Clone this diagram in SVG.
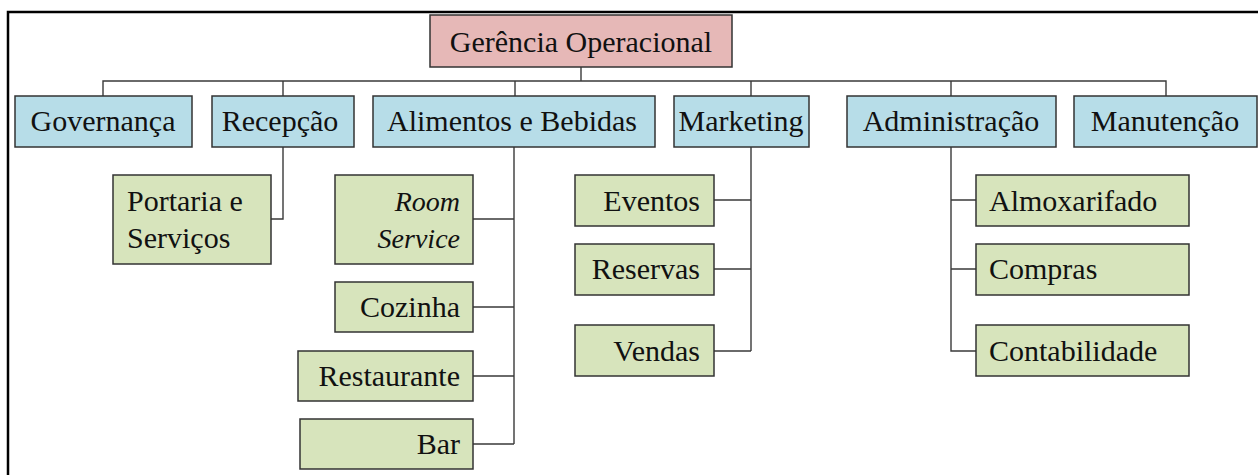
<svg xmlns="http://www.w3.org/2000/svg" width="1258" height="475" viewBox="0 0 1258 475">
<style>
  .root rect { fill: #E6B8B7; stroke: #333; stroke-width: 1.5; }
  .l2 rect { fill: #B7DDE8; stroke: #333; stroke-width: 1.5; }
  .l3 rect { fill: #D7E4BC; stroke: #333; stroke-width: 1.5; }
  text { font-family: "Liberation Serif", "DejaVu Serif", serif; font-size: 30px; fill: #111; }
  .c { text-anchor: middle; }
  .r { text-anchor: end; }
  .it { font-style: italic; font-size: 28px; }
  #connectors path { fill: none; stroke: #3a3a3a; stroke-width: 1.4; }
  .frame { fill: none; stroke: #000; stroke-width: 2.5; }
</style>
<rect x="0" y="0" width="1258" height="475" fill="#fff"/>
<path class="frame" d="M8 476 V12 H1260"/>

<g id="connectors">
  <path d="M581 67 V81"/>
  <path d="M103 96 V81 H1166 V96"/>
  <path d="M283 81 V96 M515 81 V96 M751 81 V96 M951 81 V96"/>
  <path d="M283 147 V219 H271"/>
  <path d="M514 147 V444 M473 219 H514 M473 307 H514 M473 376 H514 M473 444 H514"/>
  <path d="M751 147 V351 M714 200 H751 M714 269 H751 M714 351 H751"/>
  <path d="M951 147 V351 H976 M951 200 H976 M951 269 H976"/>
</g>

<g id="n-gerencia" class="root"><rect x="430" y="15" width="302" height="52"/><text class="c" x="581" y="52">Gerência Operacional</text></g>

<g id="n-governanca" class="l2"><rect x="15" y="96" width="177" height="51"/><text class="c" x="103" y="131">Governança</text></g>
<g id="n-recepcao" class="l2"><rect x="212" y="96" width="142" height="51"/><text class="c" x="280" y="131">Recepção</text></g>
<g id="n-alimentos" class="l2"><rect x="373" y="96" width="282" height="51"/><text class="c" x="512" y="131">Alimentos e Bebidas</text></g>
<g id="n-marketing" class="l2"><rect x="674" y="96" width="135" height="51"/><text class="c" x="741" y="131">Marketing</text></g>
<g id="n-administracao" class="l2"><rect x="847" y="96" width="209" height="51"/><text class="c" x="951" y="131">Administração</text></g>
<g id="n-manutencao" class="l2"><rect x="1074" y="96" width="183" height="51"/><text class="c" x="1165" y="131">Manutenção</text></g>

<g id="n-portaria" class="l3"><rect x="113" y="175" width="158" height="89"/><text x="127" y="211">Portaria e</text><text x="127" y="248">Serviços</text></g>

<g id="n-room" class="l3"><rect x="335" y="175" width="138" height="89"/><text class="r it" x="460" y="211">Room</text><text class="r it" x="460" y="248">Service</text></g>
<g id="n-cozinha" class="l3"><rect x="335" y="282" width="138" height="50"/><text class="r" x="460" y="317">Cozinha</text></g>
<g id="n-restaurante" class="l3"><rect x="298" y="351" width="175" height="50"/><text class="r" x="460" y="386">Restaurante</text></g>
<g id="n-bar" class="l3"><rect x="300" y="419" width="173" height="50"/><text class="r" x="460" y="454">Bar</text></g>

<g id="n-eventos" class="l3"><rect x="575" y="175" width="139" height="51"/><text class="r" x="700" y="211">Eventos</text></g>
<g id="n-reservas" class="l3"><rect x="575" y="244" width="139" height="51"/><text class="r" x="700" y="279">Reservas</text></g>
<g id="n-vendas" class="l3"><rect x="575" y="325" width="139" height="51"/><text class="r" x="700" y="361">Vendas</text></g>

<g id="n-almoxarifado" class="l3"><rect x="976" y="175" width="213" height="51"/><text x="989" y="211">Almoxarifado</text></g>
<g id="n-compras" class="l3"><rect x="976" y="244" width="213" height="51"/><text x="989" y="279">Compras</text></g>
<g id="n-contabilidade" class="l3"><rect x="976" y="325" width="213" height="51"/><text x="989" y="361">Contabilidade</text></g>
</svg>
